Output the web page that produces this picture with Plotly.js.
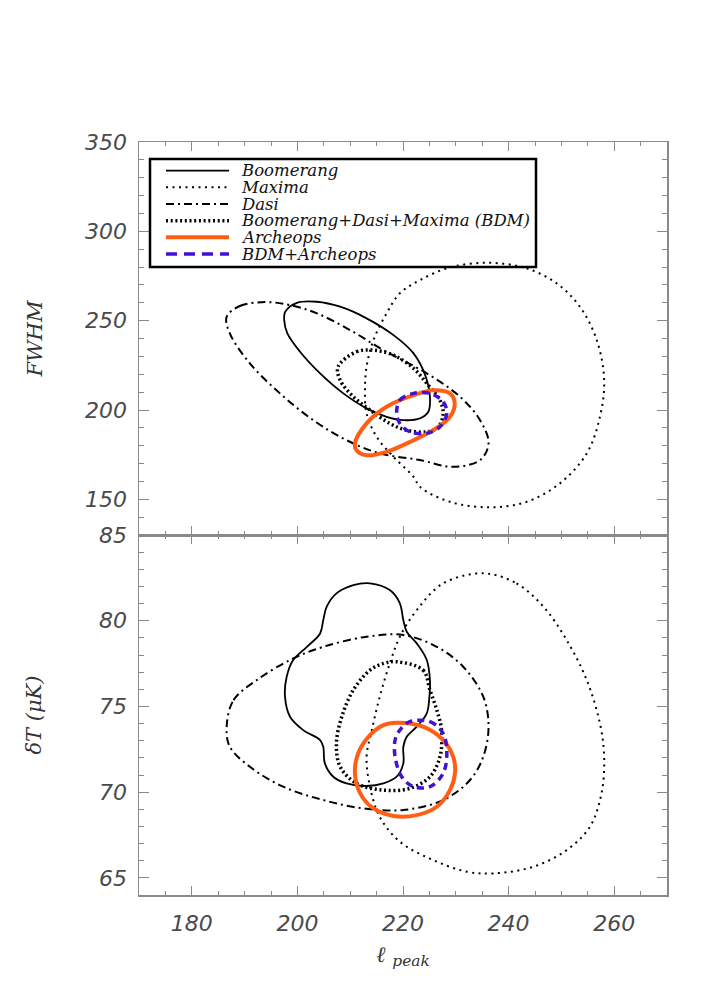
<!DOCTYPE html>
<html>
<head>
<meta charset="utf-8">
<script src="https://cdn.plot.ly/plotly-3.0.1.min.js"></script>
<style>html,body{margin:0;padding:0;background:#fff;}#chart{width:709px;height:984px;}</style>
</head>
<body>
<div id="chart"></div>
<script>
// ---- Top panel: FWHM vs l_peak contours ----
var boomTopL = [197.7,199.9,203.7,208.1,213.1,218.2,222.0,224.2,225.1,224.8,223.2,220.1,216.9,213.1,208.7,204.3,200.5,198.1,197.5,197.7];
var boomTopY = [255.0,260.0,260.6,257.8,251.3,241.9,231.7,219.5,207.4,199.0,195.3,194.3,196.2,200.9,209.3,220.5,232.6,242.9,250.3,255.0];

var maxTopL = [236.2,243.4,249.1,253.5,256.7,258.1,257.3,254.8,249.7,243.4,236.5,228.9,223.2,222.0,218.2,215.0,213.1,212.8,213.1,214.4,216.9,219.4,223.2,228.9,236.2];
var maxTopY = [282.4,279.3,270.9,257.8,239.1,216.7,196.2,175.7,158.9,148.6,145.5,148.6,157.0,162.6,173.8,185.0,198.1,211.1,224.2,239.1,254.1,265.3,272.7,279.8,282.4];

var dasiTopL = [186.6,189.1,193.9,198.6,203.7,210.0,216.3,224.5,230.8,234.6,236.2,234.6,229.5,223.2,215.6,209.3,203.0,196.7,191.0,187.2,186.6];
var dasiTopY = [252.2,258.2,260.4,258.7,254.1,244.7,233.5,220.5,207.4,194.3,181.3,172.0,168.2,172.0,175.7,183.1,194.3,209.3,226.1,242.9,252.2];

var bdmTopL = [207.7,211.2,214.4,218.2,222.0,224.5,227.0,227.6,226.7,224.5,220.7,217.5,213.8,210.6,208.1,207.7];
var bdmTopY = [224.2,232.6,233.5,230.7,223.3,214.9,205.5,198.1,190.6,187.8,188.7,192.5,199.9,207.4,216.7,224.2];

var archTopL = [210.9,213.1,216.9,222.0,225.7,228.9,229.8,228.9,225.7,222.0,216.9,213.1,211.2,210.9];
var archTopY = [181.3,192.5,201.8,208.3,211.1,209.3,203.7,196.2,188.7,183.1,176.6,174.7,177.5,181.3];

var bdmArchTopL = [218.8,219.4,222.0,225.1,227.6,228.3,227.0,224.5,221.3,219.4,218.8];
var bdmArchTopY = [198.1,205.5,209.3,209.3,204.6,198.1,190.6,186.9,187.8,192.5,198.1];

// ---- Bottom panel: deltaT vs l_peak contours ----
var boomBotL = [213.75,217.5,219.4,220.06,220.7,222.6,224.5,225.1,225.0,224.5,222.6,220.7,220.06,220.06,218.8,216.3,213.1,209.3,206.8,205.2,204.9,204.3,201.1,198.6,197.65,197.97,199.2,201.8,204.3,204.9,205.55,207.4,210.6,213.75];
var boomBotY = [82.18,81.79,81.02,80.04,79.36,78.68,77.71,76.54,75.57,74.60,73.82,73.23,72.65,71.68,70.90,70.51,70.36,70.51,70.90,71.68,72.65,73.04,73.62,74.40,75.57,76.73,77.71,78.48,79.26,80.04,80.82,81.60,82.08,82.18];

var maxBotL = [235.2,241.5,246.6,251.0,254.8,257.3,258.1,257.6,255.4,251.0,244.7,237.1,232.1,225.7,219.4,215.6,213.75,213.1,214.1,215.6,217.5,219.4,222.6,227.6,235.2];
var maxBotY = [82.77,82.18,80.82,78.87,76.54,74.01,72.07,69.93,67.98,66.62,65.65,65.26,65.36,66.04,67.11,68.56,70.32,72.07,73.62,75.57,77.51,79.07,80.62,82.18,82.77];

var dasiBotL = [186.6,187.9,192.3,198.6,204.9,213.1,220.06,226.4,231.4,235.2,236.2,235.2,232.7,227.6,220.06,212.5,204.9,197.3,191.0,187.2,186.6];
var dasiBotY = [73.82,75.37,76.54,77.71,78.48,79.07,79.17,78.48,77.32,75.57,73.82,72.07,70.71,69.54,68.96,69.05,69.54,70.32,71.48,72.65,73.82];

var bdmBotL = [218.8,223.8,225.1,226.4,227.3,227.0,225.1,221.3,216.3,211.2,208.1,207.4,208.4,210.6,213.75,216.3,218.8];
var bdmBotY = [77.61,77.12,75.96,74.79,73.62,72.07,70.90,70.22,70.12,70.51,71.48,72.85,74.40,75.96,77.12,77.51,77.61];

var archBotL = [218.8,223.8,227.6,229.5,229.85,228.9,226.4,222.6,218.2,214.4,211.9,210.9,211.5,213.75,216.3,218.8];
var archBotY = [74.05,73.82,73.04,72.07,71.10,70.12,69.15,68.66,68.61,69.05,69.93,71.10,72.26,73.33,73.91,74.05];

var bdmArchBotL = [221.3,225.1,227.6,228.3,227.6,225.1,222.0,219.75,218.5,218.5,219.4,221.3];
var bdmArchBotY = [74.11,74.11,73.43,72.26,71.10,70.32,70.32,70.90,72.07,73.04,73.62,74.11];

// ---- Labels ----
var seriesNames = ["Boomerang","Maxima","Dasi","Boomerang+Dasi+Maxima (BDM)","Archeops","BDM+Archeops"];
var xTitle = "<i>ℓ</i> <sub><i>peak</i></sub>";
var yTopTitle = "FWHM";
var yBotTitle = "δT (μK)";

// ---- Styles ----
var styles = [
  {color:"#000000", width:1.8, dash:"solid"},
  {color:"#000000", width:2, dash:"2px,4.5px"},
  {color:"#000000", width:2, dash:"8px,4px,2px,4px"},
  {color:"#000000", width:3.5, dash:"2px,2.7px"},
  {color:"#FF5E14", width:4, dash:"solid"},
  {color:"#4212D2", width:3.5, dash:"7px,5px"}
];
var legendDash = ["solid","2px,4.5px","8px,4px,2px,4px","2px,2.7px","solid","11px,7px"];

var topSets = [[boomTopL,boomTopY],[maxTopL,maxTopY],[dasiTopL,dasiTopY],[bdmTopL,bdmTopY],[archTopL,archTopY],[bdmArchTopL,bdmArchTopY]];
var botSets = [[boomBotL,boomBotY],[maxBotL,maxBotY],[dasiBotL,dasiBotY],[bdmBotL,bdmBotY],[archBotL,archBotY],[bdmArchBotL,bdmArchBotY]];

var traces = [];
topSets.forEach(function(s,i){
  traces.push({x:s[0], y:s[1], xaxis:"x", yaxis:"y", type:"scatter", mode:"lines", name:seriesNames[i], showlegend:false,
    line:{color:styles[i].color, width:styles[i].width, dash:styles[i].dash, shape:"spline", smoothing:1}, hoverinfo:"skip"});
});
botSets.forEach(function(s,i){
  traces.push({x:s[0], y:s[1], xaxis:"x2", yaxis:"y2", type:"scatter", mode:"lines", name:seriesNames[i], showlegend:false,
    line:{color:styles[i].color, width:styles[i].width, dash:styles[i].dash, shape:"spline", smoothing:1}, hoverinfo:"skip"});
});

var axisCol = "#8a8a8a";
var tickFont = {family:"DejaVu Sans", size:22, color:"#4a4a4a", style:"italic"};
function xAxis(anchor, showLabels){
  return {anchor:anchor, range:[170,270], dtick:20, tick0:0, ticks:"inside", ticklen:9, tickwidth:1, tickcolor:axisCol,
    minor:{dtick:5, ticks:"inside", ticklen:4, tickcolor:axisCol, tickwidth:1},
    showline:true, linecolor:axisCol, linewidth:1.5, mirror:"ticks", showgrid:false, zeroline:false,
    showticklabels:showLabels, tickfont:tickFont, ticklabelstandoff:8};
}
var paperH = 753, paperW = 528;
function py(p){ return (895 - p)/paperH; }
function px(p){ return (p - 139)/paperW; }

var layout = {
  width:709, height:984,
  margin:{l:139, r:42, t:142, b:89},
  paper_bgcolor:"#fff", plot_bgcolor:"#fff",
  showlegend:false,
  xaxis: Object.assign(xAxis("y", false), {matches:"x2"}),
  xaxis2: Object.assign(xAxis("y2", true), {title:{text:xTitle, font:{family:"DejaVu Serif", size:22, color:"#333"}, standoff:11}}),
  yaxis: {domain:[0.478,1], anchor:"x", range:[130,350], dtick:50, tick0:0, ticks:"inside", ticklen:10, tickcolor:axisCol,
    minor:{dtick:10, ticks:"inside", ticklen:5, tickcolor:axisCol},
    showline:true, linecolor:axisCol, linewidth:1.5, mirror:"ticks", showgrid:false, zeroline:false,
    tickfont:tickFont, ticklabelstandoff:6,
    title:{text:"<i>"+yTopTitle+"</i>", font:{family:"DejaVu Serif", size:21, color:"#333"}, standoff:36}},
  yaxis2: {domain:[0,0.478], anchor:"x2", range:[64,85], dtick:5, tick0:0, ticks:"inside", ticklen:10, tickcolor:axisCol,
    minor:{dtick:1, ticks:"inside", ticklen:5, tickcolor:axisCol},
    showline:true, linecolor:axisCol, linewidth:1.5, mirror:"ticks", showgrid:false, zeroline:false,
    tickfont:tickFont, ticklabelstandoff:6,
    title:{text:"<i>"+yBotTitle+"</i>", font:{family:"DejaVu Serif", size:21, color:"#333"}, standoff:51}},
  shapes:[], annotations:[]
};

// Legend box drawn in paper coordinates
layout.shapes.push({type:"rect", xref:"paper", yref:"paper", x0:px(150), x1:px(536), y0:py(267), y1:py(159),
  line:{color:"#000", width:2.5}, fillcolor:"rgba(0,0,0,0)"});
var rowY = [170.7,187.3,204,220.7,237.3,254];
seriesNames.forEach(function(n,i){
  layout.shapes.push({type:"line", xref:"paper", yref:"paper", x0:px(166), x1:px(229), y0:py(rowY[i]), y1:py(rowY[i]),
    line:{color:styles[i].color, width:styles[i].width, dash:legendDash[i]}});
  layout.annotations.push({xref:"paper", yref:"paper", x:px(240), y:py(rowY[i]), xanchor:"left", yanchor:"middle",
    text:"<i>"+n+"</i>", showarrow:false, borderpad:0, font:{family:"DejaVu Serif", size:16.5, color:"#111"}});
});

Plotly.newPlot("chart", traces, layout, {staticPlot:true, displayModeBar:false});
</script>
</body>
</html>
